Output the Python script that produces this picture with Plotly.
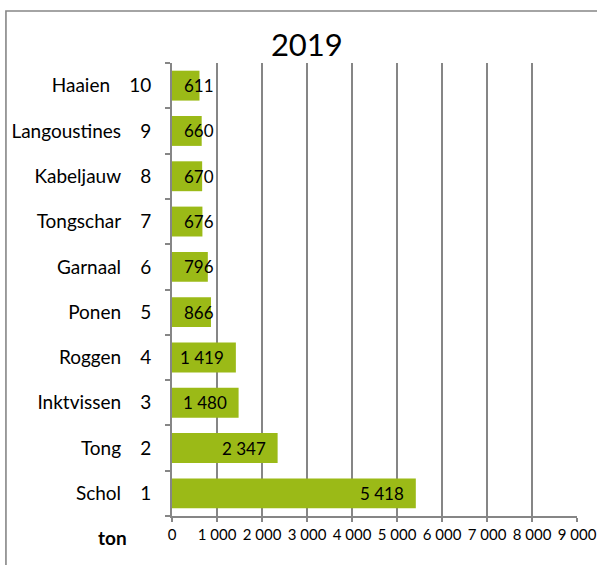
import plotly.graph_objects as go

# Data (bottom to top)
species = ["Schol", "Tong", "Inktvissen", "Roggen", "Ponen", "Garnaal",
           "Tongschar", "Kabeljauw", "Langoustines", "Haaien"]
ranks = ["1", "2", "3", "4", "5", "6", "7", "8", "9", "10"]
tonnes = [5418, 2347, 1480, 1419, 866, 796, 676, 670, 660, 611]
x_ticks = [0, 1000, 2000, 3000, 4000, 5000, 6000, 7000, 8000, 9000]

SP = " "
def fmt(v):
    return f"{v:,}".replace(",", SP)

x_ticktext = [fmt(v) for v in x_ticks]
y_ticktext = [f"{n}\u2002\u00a0\u00a0{r}" for n, r in zip(species, ranks)]

FONT = "Lato"
GRAY = "#868686"
GREEN = "#9BBA17"

fig = go.Figure()
fig.add_trace(go.Bar(
    y=species, x=tonnes, orientation="h",
    marker=dict(color=GREEN, line=dict(width=0)),
    hoverinfo="skip",
))

# data labels: inside end, clamped to inside base for short bars
for sp, v in zip(species, tonnes):
    if v >= 1400:
        fig.add_annotation(x=v, y=sp, xref="x", yref="y", text=fmt(v),
                           xanchor="right", xshift=-10, showarrow=False,
                           font=dict(family=FONT, size=17, color="black"))
    else:
        fig.add_annotation(x=0, y=sp, xref="x", yref="y", text=fmt(v),
                           xanchor="left", xshift=10, showarrow=False,
                           font=dict(family=FONT, size=17, color="black"))

fig.add_annotation(x=-0.146, y=-0.048, xref="paper", yref="paper", text="<b>ton</b>",
                   showarrow=False, xanchor="center", yanchor="middle",
                   font=dict(family=FONT, size=19, color="black"))

fig.add_shape(type="rect", xref="paper", yref="paper",
              x0=-0.41, x1=1.2, y0=-0.3, y1=1.1148,
              line=dict(color=GRAY, width=1.6), layer="above")

fig.update_layout(
    width=597, height=565,
    margin=dict(l=172, r=20, t=63, b=49, autoexpand=False),
    paper_bgcolor="white", plot_bgcolor="white",
    showlegend=False,
    bargap=0.34,
    font=dict(family=FONT, color="black"),
    title=dict(text="2019", x=0.514, xanchor="center", y=1 - 45 / 565, yanchor="middle",
               font=dict(family=FONT, size=31, color="black")),
    xaxis=dict(range=[0, 9000], tickvals=x_ticks, ticktext=x_ticktext,
               showgrid=True, gridcolor=GRAY, gridwidth=1.7,
               showline=True, linecolor=GRAY, linewidth=1.7,
               ticks="outside", ticklen=4, tickcolor=GRAY, tickwidth=1.7,
               tickfont=dict(family=FONT, size=15, color="black"),
               zeroline=False, fixedrange=True, automargin=False),
    yaxis=dict(type="category", categoryorder="array", categoryarray=species,
               tickvals=species, ticktext=y_ticktext,
               tickson="boundaries", ticks="outside", ticklen=5, tickcolor=GRAY, tickwidth=1.7,
               showline=True, linecolor=GRAY, linewidth=1.7, showgrid=False,
               ticklabelstandoff=15, automargin=False,
               tickfont=dict(family=FONT, size=19, color="black"), fixedrange=True),
)

fig.write_html("out.html", config={"displayModeBar": False},
               post_script="document.body.style.margin='0';document.body.style.overflow='hidden';")
